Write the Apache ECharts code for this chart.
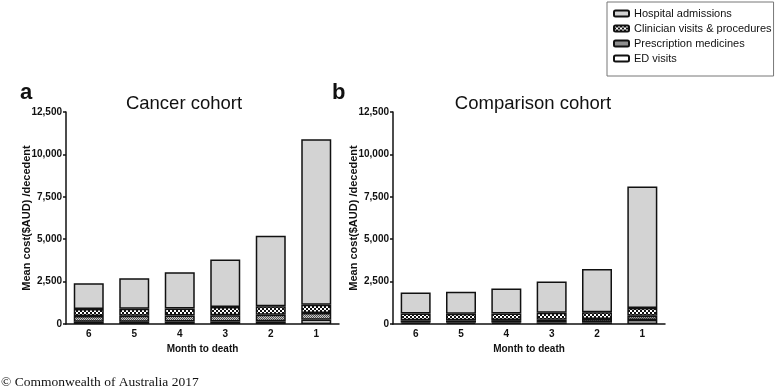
<!DOCTYPE html>
<html>
<head>
<meta charset="utf-8">
<script src="https://cdn.jsdelivr.net/npm/echarts@6/dist/echarts.min.js"></script>
<style>
html,body{margin:0;padding:0;background:#fff;}
#chart{width:778px;height:389px;}
</style>
</head>
<body>
<div id="chart"></div>
<script>
// ---- Data ----
var months = ['6', '5', '4', '3', '2', '1'];
var seriesNames = ['Hospital admissions', 'Clinician visits & procedures', 'Prescription medicines', 'ED visits'];
var yTicks = [0, 2500, 5000, 7500, 10000, 12500];

// Cancer cohort (a)
var cancerED = [140, 140, 150, 150, 160, 250];
var cancerPresc = [330, 340, 350, 370, 390, 400];
var cancerClin = [410, 420, 420, 480, 490, 490];
var cancerHosp = [1520, 1800, 2130, 2800, 4160, 9760];

// Comparison cohort (b)
var compED = [80, 80, 80, 90, 100, 240];
var compPresc = [140, 140, 150, 160, 190, 250];
var compClin = [400, 390, 390, 410, 410, 460];
var compHosp = [1230, 1290, 1480, 1840, 2550, 7150];

// ---- Patterns ----
function makePattern(w, h, draw) {
  var c = document.createElement('canvas');
  c.width = w; c.height = h;
  var ctx = c.getContext('2d');
  draw(ctx);
  return { image: c, repeat: 'repeat' };
}
var checkPattern = makePattern(4, 4, function (ctx) {
  ctx.fillStyle = '#111'; ctx.fillRect(0, 0, 4, 4);
  ctx.fillStyle = '#fff'; ctx.fillRect(0, 0, 2, 2); ctx.fillRect(2, 2, 2, 2);
});
var ditherPattern = makePattern(2, 2, function (ctx) {
  ctx.fillStyle = '#c8c8c8'; ctx.fillRect(0, 0, 2, 2);
  ctx.fillStyle = '#555'; ctx.fillRect(0, 0, 1, 1); ctx.fillRect(1, 1, 1, 1);
});

var FONT = 'Liberation Sans, Arial, sans-serif';
var fills = {
  'Hospital admissions': '#d3d3d3',
  'Clinician visits & procedures': checkPattern,
  'Prescription medicines': ditherPattern,
  'ED visits': '#ffffff'
};

function barSeries(name, data, idx, stack) {
  return {
    type: 'bar', name: name, data: data, stack: stack,
    xAxisIndex: idx, yAxisIndex: idx, barWidth: 30,
    itemStyle: { color: fills[name], borderColor: '#111', borderWidth: 1.5 },
    emphasis: { disabled: true }
  };
}

function xAxis(idx) {
  return {
    type: 'category', gridIndex: idx, data: months,
    name: 'Month to death', nameLocation: 'middle', nameGap: 18,
    nameTextStyle: { fontFamily: FONT, fontWeight: 'bold', fontSize: 10, color: '#111' },
    axisLine: { lineStyle: { color: '#111', width: 1.5 } },
    axisTick: { alignWithLabel: true, length: 4, lineStyle: { color: '#111', width: 1.5 } },
    axisLabel: { fontFamily: FONT, fontWeight: 'bold', fontSize: 10, color: '#111', margin: 5 }
  };
}
function yAxis(idx) {
  return {
    type: 'value', gridIndex: idx, min: yTicks[0], max: yTicks[yTicks.length - 1], interval: 2500,
    name: 'Mean cost($AUD) /decedent', nameLocation: 'middle', nameGap: 34, nameMoveOverlap: false,
    nameTextStyle: { fontFamily: FONT, fontWeight: 'bold', fontSize: 11, color: '#111' },
    axisLine: { show: true, lineStyle: { color: '#111', width: 1.5 } },
    axisTick: { show: true, length: 3, lineStyle: { color: '#111', width: 1.5 } },
    splitLine: { show: false },
    axisLabel: {
      fontFamily: FONT, fontWeight: 'bold', fontSize: 10, color: '#111', margin: 4,
      formatter: function (v) { return v.toLocaleString('en-US'); }
    }
  };
}

var chart = echarts.init(document.getElementById('chart'), null, { renderer: 'canvas' });
chart.setOption({
  animation: false,
  backgroundColor: '#fff',
  grid: [
    { left: 66, top: 112, width: 273, height: 212 },
    { left: 393, top: 112, width: 272, height: 212 }
  ],
  xAxis: [xAxis(0), xAxis(1)],
  yAxis: [yAxis(0), yAxis(1)],
  legend: {
    orient: 'vertical', left: 607, top: 2,
    data: seriesNames,
    itemWidth: 15, itemHeight: 6, itemGap: 4,
    padding: [6, 2, 12, 6],
    borderColor: '#777', borderWidth: 1,
    textStyle: { fontFamily: FONT, fontSize: 11, color: '#111' },
    selectedMode: false
  },
  graphic: [
    { type: 'text', left: 20, top: 82, style: { text: 'a', font: 'bold 22px ' + FONT, fill: '#111' } },
    { type: 'text', left: 332, top: 82, style: { text: 'b', font: 'bold 22px ' + FONT, fill: '#111' } },
    { type: 'text', x: 184, y: 103.5, style: { text: 'Cancer cohort', font: '18.5px ' + FONT, fill: '#111', align: 'center', verticalAlign: 'middle' } },
    { type: 'text', x: 533, y: 103.5, style: { text: 'Comparison cohort', font: '18.5px ' + FONT, fill: '#111', align: 'center', verticalAlign: 'middle' } },
    { type: 'text', x: 1, y: 382, style: { text: '\u00A9 Commonwealth of Australia 2017', font: '13.5px Liberation Serif, Times New Roman, serif', fill: '#111', align: 'left', verticalAlign: 'middle' } }
  ],
  series: [
    barSeries('ED visits', cancerED, 0, 'a'),
    barSeries('Prescription medicines', cancerPresc, 0, 'a'),
    barSeries('Clinician visits & procedures', cancerClin, 0, 'a'),
    barSeries('Hospital admissions', cancerHosp, 0, 'a'),
    barSeries('ED visits', compED, 1, 'b'),
    barSeries('Prescription medicines', compPresc, 1, 'b'),
    barSeries('Clinician visits & procedures', compClin, 1, 'b'),
    barSeries('Hospital admissions', compHosp, 1, 'b')
  ]
});
</script>
</body>
</html>
